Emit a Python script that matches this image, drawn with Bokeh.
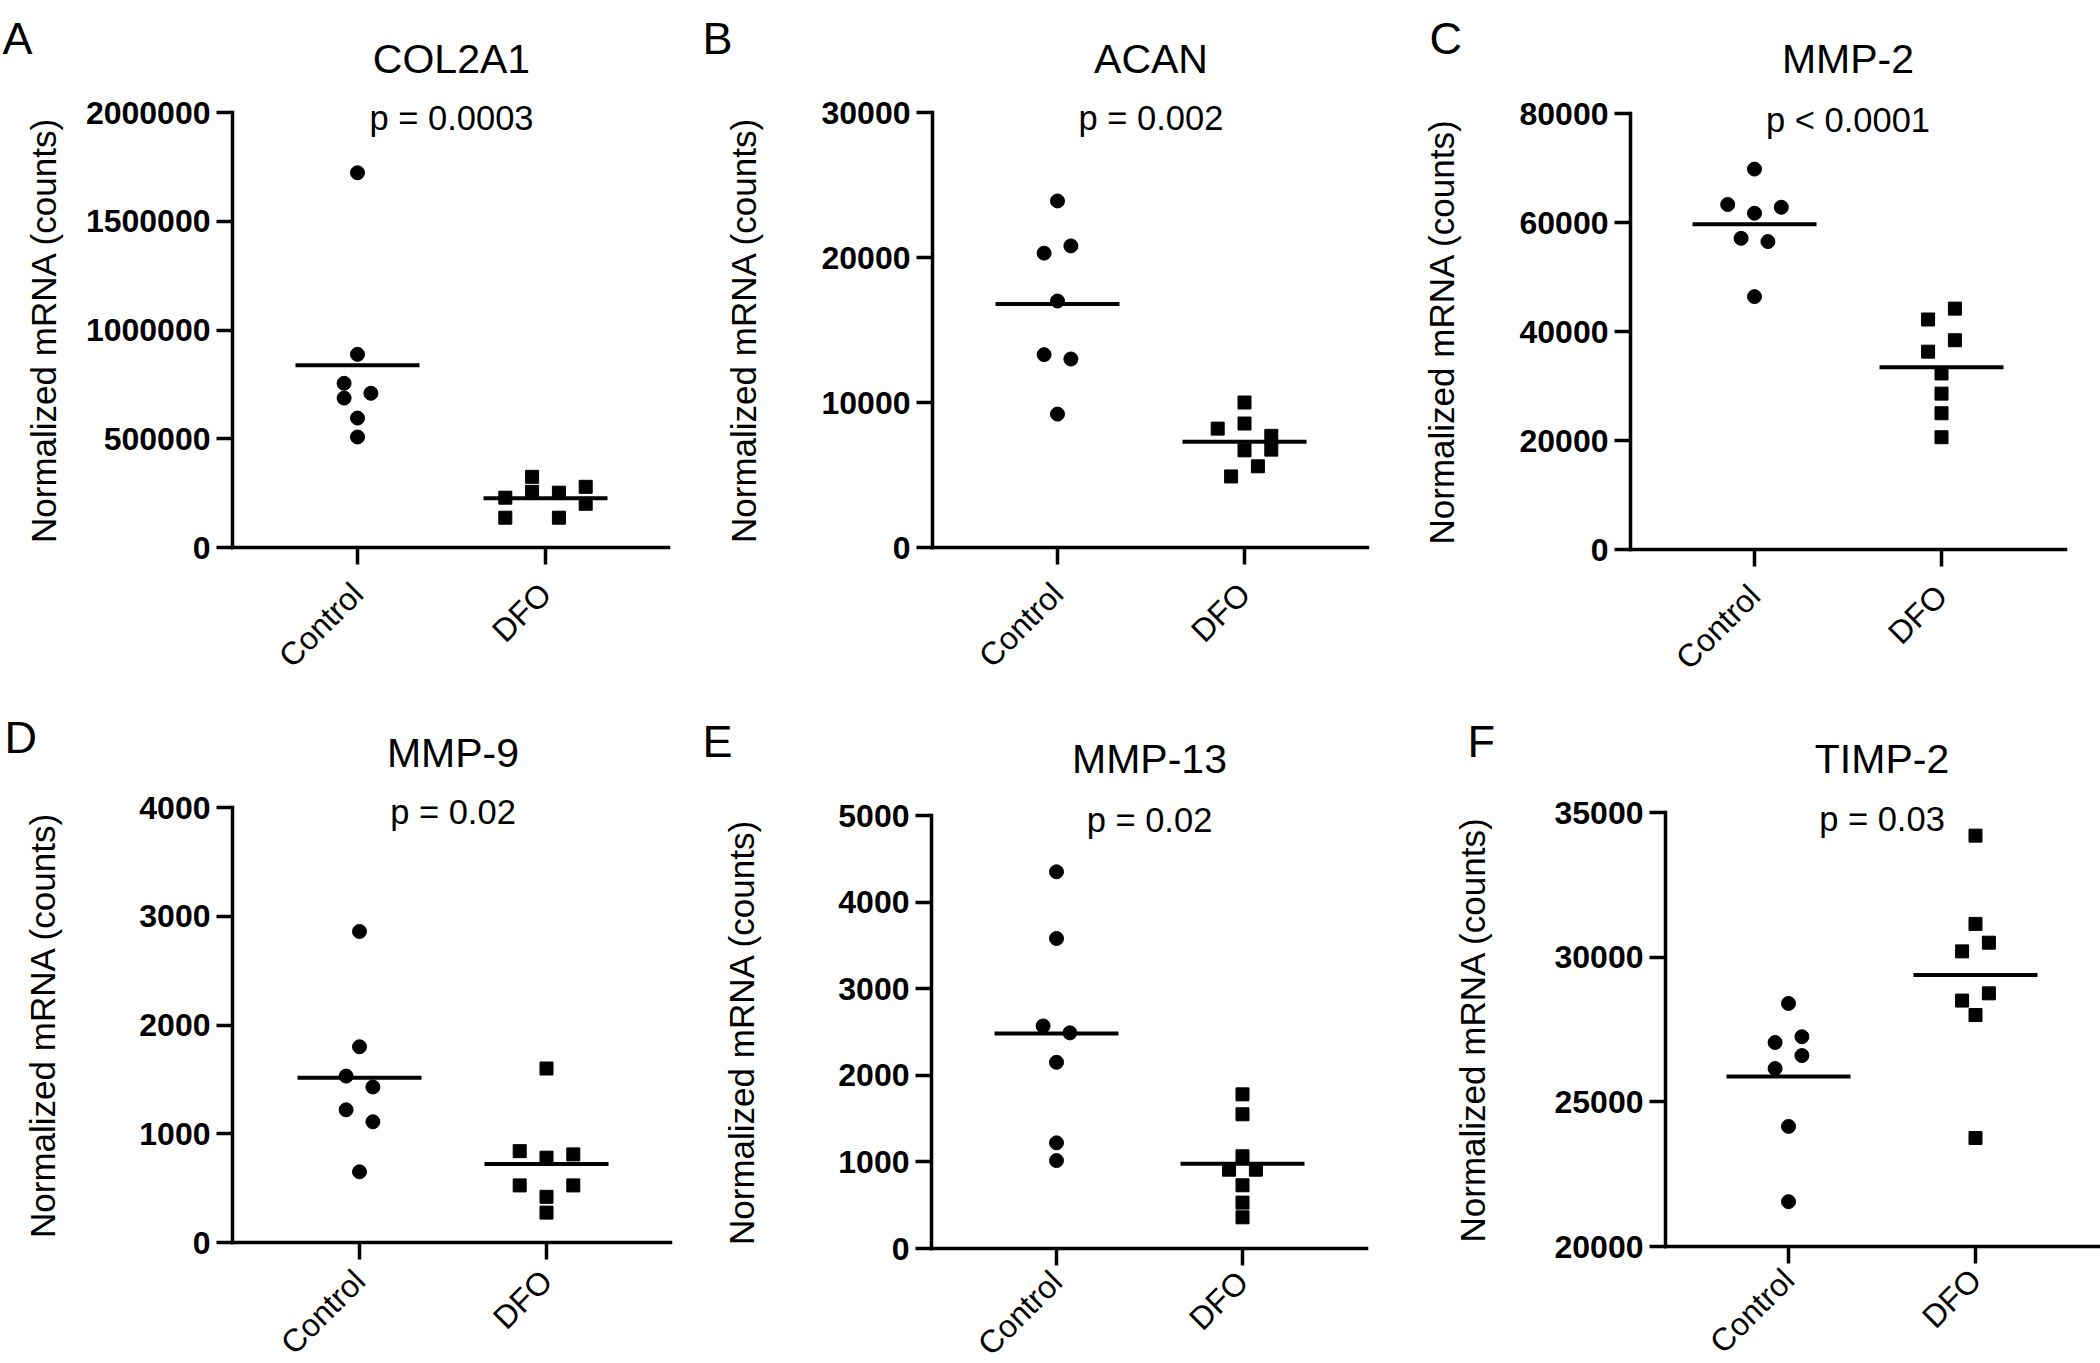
from math import pi
import numpy as np
from bokeh.plotting import figure
from bokeh.layouts import column, row
from bokeh.models import Range1d, FixedTicker, Label, PrintfTickFormatter
from bokeh.embed import file_html
from bokeh.resources import INLINE

FONT = "Liberation Sans"
groups = ["Control", "DFO"]
y_label = "Normalized mRNA (counts)"

# ---------------- data ----------------
col2a1_ctrl = [1723000, 888000, 755000, 687000, 709000, 595000, 508000]
col2a1_ctrl_dx = [0, 0, -1, -1, 1, 0, 0]
col2a1_dfo = [229000, 137000, 325000, 256000, 252000, 137000, 279000, 201000]
col2a1_dfo_dx = [-3, -3, -1, -1, 1, 1, 3, 3]

acan_ctrl = [23900, 20800, 20300, 17000, 13300, 13000, 9200]
acan_ctrl_dx = [0, 1, -1, 0, -1, 1, 0]
acan_dfo = [10000, 8550, 8200, 7700, 6750, 6700, 5600, 4900]
acan_dfo_dx = [0, 0, -2, 2, 2, 0, 1, -1]

mmp2_ctrl = [69800, 63300, 62800, 61700, 57100, 56500, 46400]
mmp2_ctrl_dx = [0, -2, 2, 0, -1, 1, 0]
mmp2_dfo = [44200, 42200, 38400, 36300, 32300, 28600, 25000, 20600]
mmp2_dfo_dx = [1, -1, 1, -1, 0, 0, 0, 0]

mmp9_ctrl = [2860, 1800, 1530, 1430, 1220, 1110, 650]
mmp9_ctrl_dx = [0, 0, -1, 1, -1, 1, 0]
mmp9_dfo = [1600, 840, 810, 780, 525, 525, 420, 275]
mmp9_dfo_dx = [0, -2, 2, 0, -2, 2, 0, 0]

mmp13_ctrl = [4350, 3580, 2570, 2490, 2150, 1220, 1015]
mmp13_ctrl_dx = [0, 0, -1, 1, 0, 0, 0]
mmp13_dfo = [1780, 1550, 1065, 910, 910, 730, 530, 360]
mmp13_dfo_dx = [0, 0, 0, -1, 1, 0, 0, 0]

timp2_ctrl = [28400, 27050, 27250, 26600, 26150, 24150, 21550]
timp2_ctrl_dx = [0, -1, 1, 1, -1, 0, 0]
timp2_dfo = [34200, 31150, 30500, 30200, 28750, 28500, 28000, 23750]
timp2_dfo_dx = [0, 0, 1, -1, 1, -1, 0, 0]

panel_letters = ["A", "B", "C", "D", "E", "F"]
panel_titles = ["COL2A1", "ACAN", "MMP-2", "MMP-9", "MMP-13", "TIMP-2"]
panel_pvalues = ["p = 0.0003", "p = 0.002", "p < 0.0001", "p = 0.02", "p = 0.02", "p = 0.03"]
y_min = [0, 0, 0, 0, 0, 20000]
y_max = [2000000, 30000, 80000, 4000, 5000, 35000]
y_step = [500000, 10000, 20000, 1000, 1000, 5000]

series = [
    (col2a1_ctrl, col2a1_ctrl_dx, col2a1_dfo, col2a1_dfo_dx),
    (acan_ctrl, acan_ctrl_dx, acan_dfo, acan_dfo_dx),
    (mmp2_ctrl, mmp2_ctrl_dx, mmp2_dfo, mmp2_dfo_dx),
    (mmp9_ctrl, mmp9_ctrl_dx, mmp9_dfo, mmp9_dfo_dx),
    (mmp13_ctrl, mmp13_ctrl_dx, mmp13_dfo, mmp13_dfo_dx),
    (timp2_ctrl, timp2_ctrl_dx, timp2_dfo, timp2_dfo_dx),
]

# ---------------- layout (canvas pixels) ----------------
# canvas w/h; y-axis x; control x; DFO x; x-axis end; y of axis top; y of axis bottom;
# y-label standoff; x-label standoff; letter position; title / p offsets
layout = [
    dict(w=700, h=680, ax=232, c1=357, c2=545, xe=668, yt=112, yb=547, ls=20, xs=24, let=(2, 38), tt=54, pv=5),
    dict(w=700, h=680, ax=232, c1=357, c2=544, xe=667, yt=112, yb=547, ls=56, xs=24, let=(2, 38), tt=54, pv=5),
    dict(w=700, h=680, ax=230, c1=354, c2=541, xe=665, yt=113, yb=549, ls=56, xs=24, let=(29, 38), tt=55, pv=6),
    dict(w=700, h=683, ax=232, c1=359, c2=546, xe=670, yt=127, yb=562, ls=74, xs=16, let=(4, 57), tt=55, pv=4),
    dict(w=700, h=683, ax=231, c1=356, c2=542, xe=666, yt=135, yb=568, ls=74, xs=11, let=(2, 61), tt=57, pv=4),
    dict(w=700, h=683, ax=265, c1=388, c2=575, xe=700, yt=132, yb=566, ls=60, xs=11, let=(67, 61), tt=54, pv=6),
]

JIT_PX = 13.4    # pixel step of the scatter spread
HALF_PX = 62     # half width of the mean line in pixels


def make_panel(i):
    L = layout[i]
    ctrl, ctrl_dx, dfo, dfo_dx = series[i]
    ymn, ymx = y_min[i], y_max[i]
    W, H = L["w"], L["h"]

    xs = float(L["c2"] - L["c1"])                 # px per category unit
    x0 = 1 - L["c1"] / xs
    x1 = 1 + (W - L["c1"]) / xs
    x_ax0 = 1 - (L["c1"] - L["ax"]) / xs
    x_ax1 = 1 + (L["xe"] - L["c1"]) / xs

    ys = (L["yb"] - L["yt"]) / float(ymx - ymn)     # px per y unit
    y0 = ymn - (H - L["yb"]) / ys
    y1 = ymx + L["yt"] / ys

    p = figure(width=W, height=H, x_range=Range1d(x0, x1), y_range=Range1d(y0, y1),
               output_backend="svg", toolbar_location=None,
               min_border_left=0, min_border_right=0, min_border_top=0, min_border_bottom=0)
    p.outline_line_color = None
    p.grid.visible = False
    p.background_fill_color = "white"
    p.border_fill_color = "white"

    for ax in (p.xaxis[0], p.yaxis[0]):
        ax.axis_line_width = 3.5
        ax.axis_line_color = "black"
        ax.axis_line_cap = "square"
        ax.major_tick_line_width = 3.5
        ax.major_tick_line_color = "black"
        ax.major_tick_in = 0
        ax.major_tick_out = 17
        ax.minor_tick_line_color = None
        ax.major_label_text_color = "black"
        ax.major_label_text_font = FONT

    xa = p.xaxis[0]
    xa.fixed_location = ymn
    xa.bounds = (x_ax0, x_ax1)
    xa.ticker = FixedTicker(ticks=[1, 2])
    xa.major_label_overrides = {1: groups[0], 2: groups[1]}
    xa.major_label_orientation = pi / 4
    xa.major_label_text_font_size = "32px"
    xa.major_label_standoff = L["xs"]

    ya = p.yaxis[0]
    ya.fixed_location = x_ax0
    ya.bounds = (ymn, ymx)
    ya.ticker = FixedTicker(ticks=list(range(ymn, ymx + 1, y_step[i])))
    ya.formatter = PrintfTickFormatter(format="%d")
    ya.major_tick_out = 16
    ya.major_label_standoff = 6
    ya.major_label_text_font_size = "32px"
    ya.major_label_text_font_style = "bold"
    ya.axis_label = y_label
    ya.axis_label_text_font = FONT
    ya.axis_label_text_font_style = "normal"
    ya.axis_label_text_font_size = "35px"
    ya.axis_label_text_color = "black"
    ya.axis_label_standoff = L["ls"]

    # points
    xc = [1 + d * JIT_PX / xs for d in ctrl_dx]
    xd = [2 + d * JIT_PX / xs for d in dfo_dx]
    p.scatter(xc, ctrl, marker="circle", size=14, color="black")
    p.scatter(xd, dfo, marker="square", size=13, color="black")

    # mean lines
    hw = HALF_PX / xs
    means = [float(np.mean(ctrl)), float(np.mean(dfo))]
    p.segment(x0=[1 - hw, 2 - hw], x1=[1 + hw, 2 + hw],
              y0=means, y1=means, line_width=4, line_color="black")

    p.add_layout(Label(x=1.5, y=ymx, y_offset=-L["pv"], text=panel_pvalues[i],
                       text_align="center", text_baseline="alphabetic",
                       text_font=FONT, text_font_size="34.5px", text_color="black"))
    p.add_layout(Label(x=1.5, y=ymx, y_offset=L["tt"], text=panel_titles[i],
                       text_align="center", text_baseline="alphabetic",
                       text_font=FONT, text_font_size="41px", text_color="black"))
    lx, ly = L["let"]
    p.add_layout(Label(x=x_ax0, y=ymx, x_offset=lx - L["ax"], y_offset=L["yt"] - ly,
                       text=panel_letters[i], text_align="left", text_baseline="alphabetic",
                       text_font=FONT, text_font_size="45px", text_color="black"))
    return p


panels = [make_panel(i) for i in range(6)]
page = column(row(panels[0], panels[1], panels[2]),
              row(panels[3], panels[4], panels[5]))

open("out.html", "w").write(file_html(page, INLINE))
